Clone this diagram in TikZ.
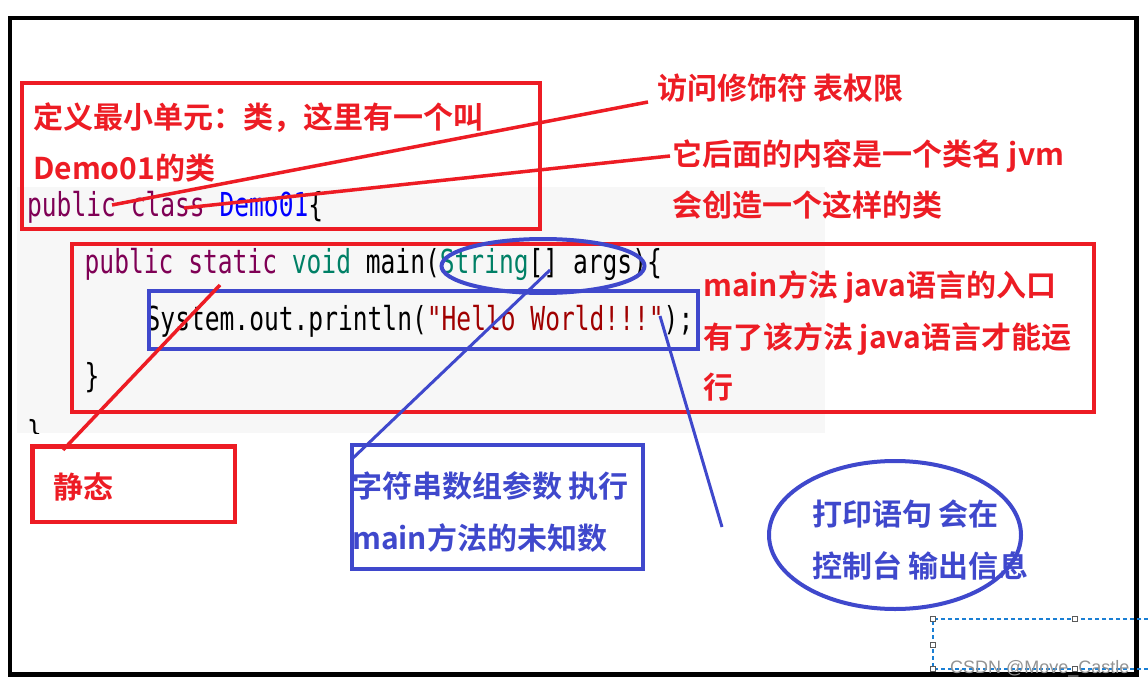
\documentclass[tikz,border=0pt]{standalone}
\usepackage{fontspec}
\setmonofont{DejaVu Sans Mono}
\newfontfamily\cjk{Noto Sans CJK SC}[BoldFont={Noto Sans CJK SC Bold}]
\newfontfamily\wmfont{Liberation Sans}
\usetikzlibrary{shapes.geometric}
\definecolor{pred}{HTML}{ED1C24}
\definecolor{pblue}{HTML}{3F48CC}
\definecolor{kw}{HTML}{7F0055}
\definecolor{ty}{HTML}{008066}
\definecolor{cls}{HTML}{0000FF}
\definecolor{strc}{HTML}{A00000}
\definecolor{codebg}{HTML}{F7F7F7}
\definecolor{selblue}{HTML}{1A7FD4}
\tikzset{
 codeline/.style={anchor=base west, inner sep=0pt, xscale=0.745, font=\ttfamily\fontsize{33}{33}\selectfont},
 note/.style={anchor=base west, inner sep=0pt, font=\cjk\bfseries\fontsize{30}{30}\selectfont},
 rednote/.style={note, text=pred},
 bluenote/.style={note, text=pblue},
 redbox/.style={draw=pred, line width=4.5pt, rectangle, inner sep=0pt},
 bluebox/.style={draw=pblue, line width=4.5pt, rectangle, inner sep=0pt},
 blueoval/.style={draw=pblue, line width=4pt, ellipse, inner sep=0pt},
 redline/.style={draw=pred, line width=3.5pt},
 blueline/.style={draw=pblue, line width=3pt},
 sel/.style={draw=selblue, line width=1.1pt, dash pattern=on 4pt off 3pt},
 handle/.style={draw=gray!70!black, fill=white, line width=0.8pt, minimum size=5pt, inner sep=0pt, rectangle},
}
\begin{document}
\begin{tikzpicture}[x=1pt,y=-1pt]
\useasboundingbox (0,0) rectangle (1148,687);
\fill[white] (0,0) rectangle (1148,687);
% code background
\fill[codebg] (17,187) rectangle (825,433);
% code
\node[codeline] (c1) at (27,216) {\textcolor{kw}{public class} \textcolor{cls}{Demo01}\{};
\node[codeline] (c2) at (84.5,273) {\textcolor{kw}{public static} \textcolor{ty}{void} main(\textcolor{ty}{String}[] args)\{};
\node[codeline] (c3) at (145.5,330) {System.out.println(\textcolor{strc}{"Hello World!!!"});};
\node[codeline] (c4) at (84.5,387) {\}};
\begin{scope}
\clip (17,187) rectangle (825,433);
\node[codeline] (c5) at (27,444) {\}};
\end{scope}
% boxes
\node[redbox, minimum width=518pt, minimum height=146pt] (b1) at (281,156) {};
\node[redbox, minimum width=1022pt, minimum height=168pt] (b2) at (583,328) {};
\node[bluebox, minimum width=549pt, minimum height=58pt] (b3) at (423.5,320) {};
\node[redbox, minimum width=202.5pt, minimum height=75.5pt] (b4) at (133.75,484.25) {};
\node[bluebox, minimum width=291pt, minimum height=124pt] (b5) at (497.5,507) {};
\node[blueoval, minimum width=203pt, minimum height=54pt] (e1) at (543,266) {};
\node[blueoval, minimum width=252pt, minimum height=148pt] (e2) at (895,535) {};
% connector ends
\coordinate (l1a) at (112,205);
\coordinate (l1b) at (648,102);
\coordinate (l2a) at (184,208);
\coordinate (l2b) at (670,156);
\coordinate (l3a) at (220,285);
\coordinate (l3b) at (63,450);
\coordinate (l4a) at (550,270);
\coordinate (l4b) at (352,459);
\coordinate (l5a) at (660,316);
\coordinate (l5b) at (722,527);
\draw[redline] (l1a) -- (l1b);
\draw[redline] (l2a) -- (l2b);
\draw[redline] (l3a) -- (l3b);
\draw[blueline] (l4a) -- (l4b);
\draw[blueline] (l5a) -- (l5b);
% notes
\node[rednote] (t1) at (33,128.5) {定义最小单元：类，这里有一个叫};
\node[rednote] (t2) at (33,179.5) {Demo01的类};
\node[rednote] (t3) at (657,100) {访问修饰符 表权限};
\node[rednote] (t4) at (672,165.5) {它后面的内容是一个类名 jvm};
\node[rednote] (t5) at (672,217) {会创造一个这样的类};
\node[rednote] (t6) at (703,296) {main方法 java语言的入口};
\node[rednote] (t7) at (703,348) {有了该方法 java语言才能运};
\node[rednote] (t8) at (703,398.5) {行};
\node[rednote] (t9) at (53,498.5) {静态};
\node[bluenote] (t10) at (352,497) {字符串数组参数 执行};
\node[bluenote] (t11) at (352,549) {main方法的未知数};
\node[bluenote] (t12) at (812,525) {打印语句 会在};
\node[bluenote] (t13) at (812,577) {控制台 输出信息};
% frame
\draw[line width=4.5pt] (10,18) rectangle (1136.5,674.5);
% selection rectangle
\coordinate (s1) at (933,619);
\coordinate (s2) at (1148,619);
\coordinate (s3) at (933,669);
\coordinate (s4) at (1148,669);
\draw[sel] (s2) -- (s1) -- (s3) -- (s4);
\node[anchor=base west, inner sep=0pt, text=gray!85, font=\wmfont\fontsize{18}{18}\selectfont] (wm) at (950,673) {CSDN @Move\_Castle};
\node[handle] (h1) at (933,619) {};
\node[handle] (h2) at (1075,619) {};
\node[handle] (h3) at (933,645) {};
\node[handle] (h4) at (933,669) {};
\node[handle] (h5) at (1075,669) {};
\end{tikzpicture}
\end{document}
